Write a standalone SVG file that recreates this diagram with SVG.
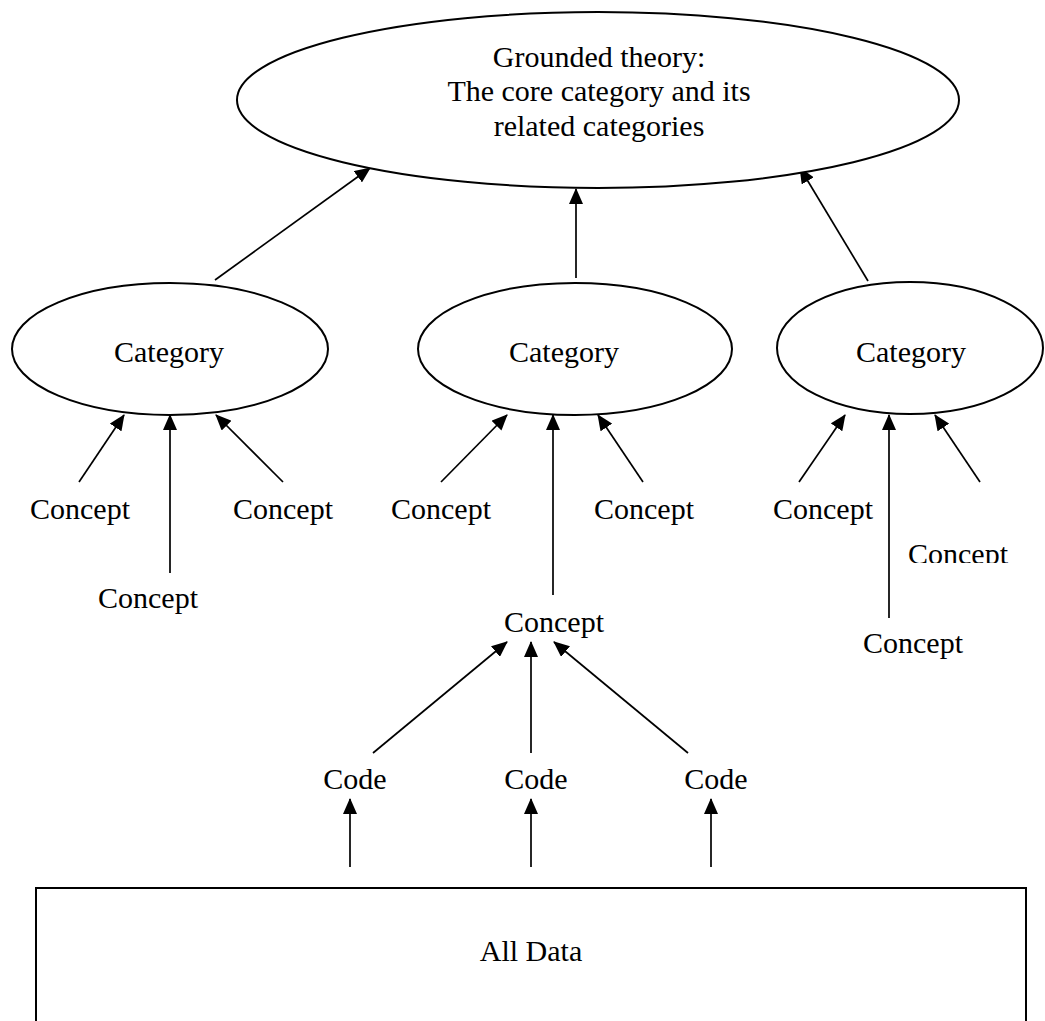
<svg xmlns="http://www.w3.org/2000/svg" width="1045" height="1021" viewBox="0 0 1045 1021">
<style>
  .shape { fill: #ffffff; stroke: #000000; stroke-width: 2; }
  .lbl { font-family: "Liberation Serif", "Times New Roman", serif; font-size: 30px; fill: #000000; text-anchor: middle; }
  .conn line { stroke: #000000; stroke-width: 1.7; marker-end: url(#arrow); }
</style>
<defs>
  <marker id="arrow" markerUnits="userSpaceOnUse" markerWidth="16" markerHeight="14" viewBox="0 0 16 14" refX="15" refY="7" orient="auto">
    <path d="M0,0 L16,7 L0,14 z" fill="#000000"/>
  </marker>
  <clipPath id="clipConcept">
    <rect x="0" y="0" width="1045" height="563"/>
  </clipPath>
</defs>
<rect width="1045" height="1021" fill="#ffffff"/>

<g id="connectors" class="conn">
  <line x1="215" y1="280" x2="370" y2="168"/>
  <line x1="576" y1="278" x2="576" y2="189"/>
  <line x1="868" y1="281" x2="800" y2="168"/>

  <line x1="79" y1="482" x2="124" y2="415"/>
  <line x1="170" y1="573" x2="170" y2="415"/>
  <line x1="283" y1="482" x2="216" y2="415"/>

  <line x1="441" y1="482" x2="507" y2="415"/>
  <line x1="553" y1="595" x2="553" y2="415"/>
  <line x1="643" y1="482" x2="598" y2="415"/>

  <line x1="799" y1="482" x2="845" y2="415"/>
  <line x1="889" y1="618" x2="889" y2="415"/>
  <line x1="980" y1="482" x2="935" y2="415"/>

  <line x1="373" y1="753" x2="507" y2="642"/>
  <line x1="531" y1="753" x2="531" y2="642"/>
  <line x1="688" y1="753" x2="554" y2="642"/>

  <line x1="350" y1="867" x2="350" y2="799"/>
  <line x1="531" y1="867" x2="531" y2="799"/>
  <line x1="711" y1="867" x2="711" y2="799"/>
</g>

<g id="theory">
  <ellipse class="shape" cx="598" cy="100" rx="361" ry="88"/>
  <text class="lbl" x="599" y="67">Grounded theory:</text>
  <text class="lbl" x="599" y="101">The core category and its</text>
  <text class="lbl" x="599" y="136">related categories</text>
</g>

<g id="category1">
  <ellipse class="shape" cx="170" cy="349" rx="158" ry="66"/>
  <text class="lbl" x="169" y="362">Category</text>
</g>
<g id="category2">
  <ellipse class="shape" cx="575" cy="349" rx="157" ry="66"/>
  <text class="lbl" x="564" y="362">Category</text>
</g>
<g id="category3">
  <ellipse class="shape" cx="910" cy="348" rx="133" ry="66"/>
  <text class="lbl" x="911" y="362">Category</text>
</g>

<g id="concept1"><text class="lbl" x="80" y="519">Concept</text></g>
<g id="concept2"><text class="lbl" x="148" y="608">Concept</text></g>
<g id="concept3"><text class="lbl" x="283" y="519">Concept</text></g>

<g id="concept4"><text class="lbl" x="441" y="519">Concept</text></g>
<g id="concept5"><text class="lbl" x="644" y="519">Concept</text></g>
<g id="concept6"><text class="lbl" x="554" y="632">Concept</text></g>

<g id="concept7"><text class="lbl" x="823" y="519">Concept</text></g>
<g id="concept8" clip-path="url(#clipConcept)"><text class="lbl" x="958" y="564">Concept</text></g>
<g id="concept9"><text class="lbl" x="913" y="653">Concept</text></g>

<g id="code1"><text class="lbl" x="355" y="789">Code</text></g>
<g id="code2"><text class="lbl" x="536" y="789">Code</text></g>
<g id="code3"><text class="lbl" x="716" y="789">Code</text></g>

<g id="alldata">
  <path class="shape" d="M36,1030 L36,888 L1026,888 L1026,1030" fill="none"/>
  <text class="lbl" x="531" y="961">All Data</text>
</g>
</svg>
